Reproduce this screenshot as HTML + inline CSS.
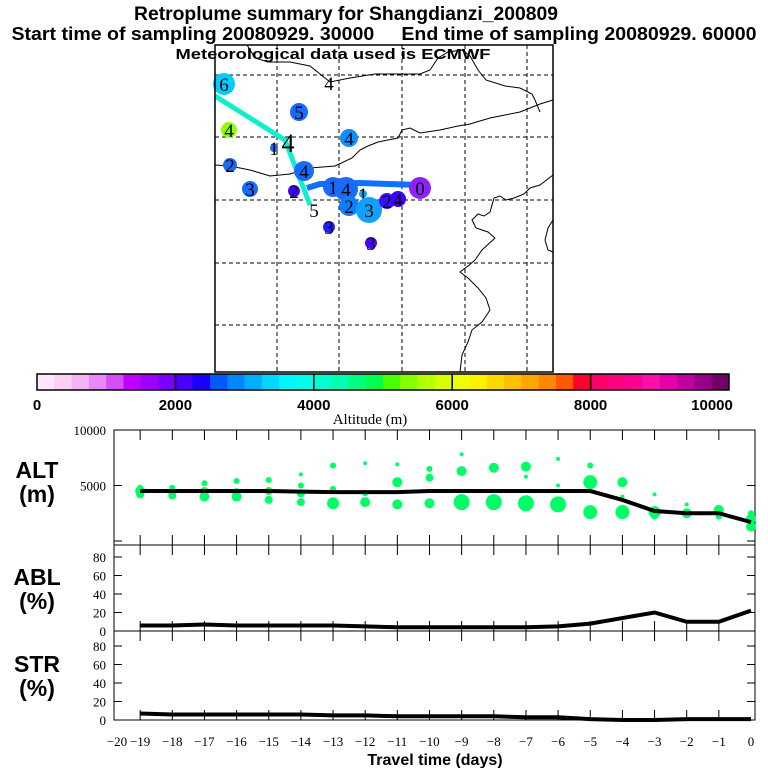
<!DOCTYPE html>
<html><head><meta charset="utf-8"><style>
html,body{margin:0;padding:0;background:#fff;}
svg{display:block;font-family:"Liberation Sans",sans-serif;}
</style></head><body>
<svg id="chart" width="768" height="768" viewBox="0 0 768 768" xmlns="http://www.w3.org/2000/svg">
<g font-weight="bold" text-anchor="middle">
<text x="346" y="20" font-size="19" textLength="424" lengthAdjust="spacingAndGlyphs">Retroplume summary for Shangdianzi_200809</text>
<text x="384" y="40" font-size="18" textLength="745" lengthAdjust="spacingAndGlyphs" style="white-space:pre" xml:space="preserve">Start time of sampling 20080929. 30000     End time of sampling 20080929. 60000</text>
<text x="333" y="59" font-size="15" textLength="315" lengthAdjust="spacingAndGlyphs">Meteorological data used is ECMWF</text>
</g>
<g id="map"></g>
<g id="cbar"></g>
<g id="panels"></g>
</svg>
<script>
// ---- data ----
const cbarColors = ["#ffe6fa","#fad0f5","#f3b4f6","#e789f6","#d44ff4","#c000ff","#a000ff","#7a00ff",
"#4800ff","#1800ff","#0058ff","#0088ff","#00b0ff","#00d8ff","#00f5ff","#00ffe8",
"#00ffd0","#00ffb0","#00ff80","#00ff50","#4cff00","#88ff00","#b4ff00","#d8ff00",
"#eeff00","#fff000","#ffd800","#ffc000","#ffa800","#ff8800","#ff5800","#ff0030",
"#ff0068","#ff0080","#ff0090","#ff10a8","#e800a8","#c000a0","#980088","#700068"];
const cbarTicks = [0,2000,4000,6000,8000,10000];
const days = [-19,-18,-17,-16,-15,-14,-13,-12,-11,-10,-9,-8,-7,-6,-5,-4,-3,-2,-1,0];
const altMean = [4500,4500,4500,4500,4500,4450,4400,4400,4400,4500,4500,4500,4500,4500,4500,3700,2700,2500,2500,1700];
const ablMean = [6,6,7,6,6,6,6,5,4,4,4,4,4,5,8,14,20,10,10,22];
const strMean = [7,6,6,6,6,6,5,5,4,4,4,4,3,3,1,0,0,1,1,1];
const dotDay = [-19,-19,-19,-18,-18,-18,-17,-17,-17,-16,-16,-16,-15,-15,-15,-14,-14,-14,-14,-13,-13,-13,-12,-12,-12,-11,-11,-11,-10,-10,-10,-9,-9,-9,-8,-8,-7,-7,-7,-6,-6,-6,-5,-5,-5,-4,-4,-4,-3,-3,-3,-2,-2,-1,-1,0,0,0];
const dotAlt = [4500,4200,4800,4400,4100,4800,4500,4000,5200,4400,4000,5400,4500,3700,5500,4300,3500,5000,6000,4700,3400,6800,4300,3500,7000,5300,3300,6900,3400,5700,6500,3500,6300,7800,3500,6600,3400,6700,5800,3300,7400,5000,5300,2600,6800,5300,2600,4000,2600,2300,4200,2500,3300,2800,2200,2000,1300,2500];
const dotSize = [5,4,3,4,4,3,4,5,3,4,5,3,4,4,3,4,4,3,2,3,6,3,3,5,2,5,5,2,5,4,3,8,5,2,8,5,8,5,2,8,2,2,7,7,3,5,7,2,6,4,2,5,2,5,3,5,5,3];
const altTicks = [0,5000,10000];
const pctTicks = [0,20,40,60,80];
// map markers: [x,y,r,color,label]
const mapMarks = [[224,84,11,"#00ccff","6"],[329,83,0,"#000","4"],[299,112,9,"#1a6aff","5"],[229,130,8,"#90ff00","4"],[349,138,9,"#0a90ff","4"],
[274,148,4,"#1a6aff","1"],[288,145,0,"#000","4"],[230,165,7,"#1a6aff","2"],[304,171,10,"#1a6aff","4"],[250,189,8,"#1a6aff","3"],[294,191,6,"#4000ff","2"],
[333,187,10,"#1a6aff","1"],[346,189,12,"#1a6aff","4"],[363,194,4,"#10a0ff","1"],[349,206,10,"#0a80ff","2"],[369,210,13,"#10a0ff","3"],[387,201,8,"#3a10ff","2"],
[398,199,8,"#4000ff","4"],[420,188,11,"#9020ff","0"],[329,227,6,"#2020ff","3"],[371,243,6,"#5000ff","3"],[314,210,0,"#000","5"]];
</script>
<script>
const NS="http://www.w3.org/2000/svg";
function mk(parent,tag,attrs,txt){const e=document.createElementNS(NS,tag);for(const k in attrs)e.setAttribute(k,attrs[k]);if(txt!==undefined)e.textContent=txt;parent.appendChild(e);return e;}

// ---- map ----
const map=document.getElementById('map');
const MX0=215,MX1=553,MY0=45,MY1=372;
[277,339,402,465,527].forEach(x=>{const l=mk(map,'line',{x1:x,y1:MY0,x2:x,y2:MY1,stroke:'#000','stroke-width':1,'stroke-dasharray':'4,3'});

});
[75,137,200,263,325].forEach(y=>{const l=mk(map,'line',{x1:MX0,y1:y,x2:MX1,y2:y,stroke:'#000','stroke-width':1,'stroke-dasharray':'4,3'});

});
const coasts=["M215,165 L230,166 L250,170 L270,176 L290,174 L310,168 L335,166 L352,158 L360,150 L368,146 L378,142 L388,140 L398,138 L402,130 L410,128 L420,133 L440,130 L458,126 L470,124 L490,118 L505,115 L520,112 L530,108 L540,104 L553,100",
"M247,45 L255,58 L268,62 L290,62 L310,66 L330,82 L350,78 L375,74 L398,74 L420,74 L430,70 L438,58 L448,52 L462,50 L470,56 L478,70 L486,80 L505,86 L520,88 L532,94 L535,100 L540,112",
"M553,175 L540,185 L530,188 L524,194 L514,198 L506,200 L500,196 L494,198 L490,212 L484,216 L478,214 L472,220 L476,228 L488,232 L495,238 L482,250 L475,260 L468,266 L460,272 L468,278 L478,288 L486,298 L490,310 L482,322 L472,330 L468,342 L462,355 L460,372",
"M553,220 L548,228 L545,240 L548,250 L553,252"];
coasts.forEach(d=>{const p=mk(map,'path',{d:d,fill:'none',stroke:'#000','stroke-width':1});

});
const tr1=mk(map,'polyline',{points:"215,96 285,140 310,205",fill:'none',stroke:'#10eed0','stroke-width':5});


const tr2=mk(map,'polyline',{points:"307,188 320,184 360,183 420,185",fill:'none',stroke:'#1070ff','stroke-width':6});


mapMarks.forEach(m=>{
  if(m[2]>0){const c=mk(map,'circle',{cx:m[0],cy:m[1],r:m[2],fill:m[3]});
  
  }
  const t=mk(map,'text',{x:m[0],y:m[1]+7,'font-family':'"Liberation Serif",serif','font-size':m[4]==="4"&&m[2]===0&&m[0]===288?26:19,'text-anchor':'middle',fill:'#000'},m[4]);
  
  
});
const mb=mk(map,'rect',{x:MX0,y:MY0,width:MX1-MX0,height:MY1-MY0,fill:'none',stroke:'#000','stroke-width':1.5});



// ---- colorbar ----
const cb=document.getElementById('cbar');
const CX0=37,CX1=729,CY0=374,CY1=390;
const segW=(CX1-CX0)/cbarColors.length;
cbarColors.forEach((c,i)=>{const r=mk(cb,'rect',{x:CX0+i*segW,y:CY0,width:segW+0.5,height:CY1-CY0,fill:c});

});
const cbx=v=>CX0+(CX1-CX0)*v/10000;
cbarTicks.forEach(v=>{
  if(v>0&&v<10000){const l=mk(cb,'line',{x1:cbx(v),y1:CY0,x2:cbx(v),y2:CY1,stroke:'#000','stroke-width':1.5});
  
  }
  const t=mk(cb,'text',{x:Math.min(cbx(v),712),y:410,'font-size':15,'font-weight':'bold','text-anchor':'middle'},String(v));
  
  
});
const cbf=mk(cb,'rect',{x:CX0,y:CY0,width:CX1-CX0,height:CY1-CY0,fill:'none',stroke:'#000','stroke-width':1.5});


const cbt=mk(cb,'text',{x:370,y:424,'font-size':15,'font-family':'"Liberation Serif",serif','text-anchor':'middle'},"Altitude (m)");



// ---- panels ----
const pg=document.getElementById('panels');
const PX0=114,PX1=755;
const xd=d=>751+32.15*d;
const altY=v=>541-(541-430)*v/10000;
const ablY=v=>631-(631-557)*v/80;
const strY=v=>720-(720-646)*v/80;
const panels=[{y0:430,y1:545,name:'alt'},{y0:545,y1:631,name:'abl'},{y0:631,y1:720,name:'str'}];
panels.forEach(p=>{
  const r=mk(pg,'rect',{x:PX0,y:p.y0,width:PX1-PX0,height:p.y1-p.y0,fill:'none',stroke:'#000','stroke-width':1});
  
  
  days.forEach(d=>{if(d===0)return;
    const a=mk(pg,'line',{x1:xd(d),y1:p.y0,x2:xd(d),y2:p.y0+10,stroke:'#000'});
    
    
    const b=mk(pg,'line',{x1:xd(d),y1:p.y1,x2:xd(d),y2:p.y1-10,stroke:'#000'});
    
    });
});
// y ticks & labels
function yaxis(ticks,fy,name){ticks.forEach(v=>{
  const a=mk(pg,'line',{x1:PX0,y1:fy(v),x2:PX0+8,y2:fy(v),stroke:'#000'});
  
  
  const b=mk(pg,'line',{x1:PX1,y1:fy(v),x2:PX1-8,y2:fy(v),stroke:'#000'});
  
  
  if(name==='alt'&&v===0)return;
  const t=mk(pg,'text',{x:106,y:fy(v)+5,'font-size':13,'font-family':'"Liberation Serif",serif','text-anchor':'end'},String(v));
  
  });}
yaxis(altTicks,altY,'alt');yaxis(pctTicks,ablY,'abl');yaxis(pctTicks,strY,'str');
// green dots
dotDay.forEach((d,i)=>{const c=mk(pg,'circle',{cx:xd(d),cy:altY(dotAlt[i]),r:dotSize[i],fill:'#00ff66'});

});
// lines
function line(vals,fy,name){const pts=days.map((d,i)=>xd(d)+','+fy(vals[i])).join(' ');
  const l=mk(pg,'polyline',{points:pts,fill:'none',stroke:'#000','stroke-width':4});
  
  }
line(altMean,altY,'alt-mean-line');line(ablMean,ablY,'abl-mean-line');line(strMean,strY,'str-mean-line');
// x labels
[-20].concat(days).forEach(d=>{const t=mk(pg,'text',{x:d===-20?117:xd(d),y:746,'font-size':13,'font-family':'"Liberation Serif",serif','text-anchor':'middle'},d===0?"0":"\u2212"+(-d));

});
const xt=mk(pg,'text',{x:435,y:765,'font-size':16,'font-weight':'bold','text-anchor':'middle'},"Travel time (days)");


[["ALT",478],["(m)",502],["ABL",585],["(%)",609],["STR",672],["(%)",696]].forEach(a=>{
  const t=mk(pg,'text',{x:37,y:a[1],'font-size':23,'font-weight':'bold','text-anchor':'middle'},a[0]);
  
  });
</script>
</body></html>
